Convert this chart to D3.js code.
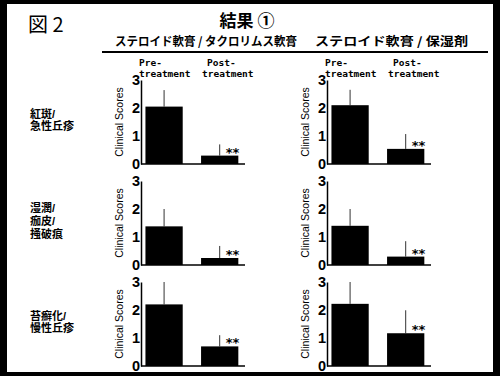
<!DOCTYPE html>
<html>
<head>
<meta charset="utf-8">
<script src="https://cdn.jsdelivr.net/npm/d3@7"></script>
<style>
  body { margin: 0; background: #000; }
  svg { display: block; }
</style>
</head>
<body>
<div id="chart"></div>
<script>
// data
const groups = ["Pre", "Post"];
const groupLabels = [["Pre-", "treatment"], ["Post-", "treatment"]];
const columnTitles = ["ステロイド軟膏 / タクロリムス軟膏", "ステロイド軟膏 / 保湿剤"];
const rowLabels = [["紅斑/", "急性丘疹"], ["湿潤/", "痂皮/", "掻破痕"], ["苔癬化/", "慢性丘疹"]];
const yTicks = [0, 1, 2, 3];

// mean scores [pre, post] per row, per column
const tacrolimusMeans = [[2.05, 0.30], [1.38, 0.25], [2.20, 0.70]];
const tacrolimusSD = [[0.59, 0.40], [0.62, 0.43], [0.80, 0.40]];
const moisturizerMeans = [[2.10, 0.54], [1.40, 0.30], [2.22, 1.17]];
const moisturizerSD = [[0.55, 0.53], [0.60, 0.55], [0.78, 0.82]];
const significance = ["", "**"];

const W = 500, H = 376;
const svg = d3.select("#chart").append("svg")
    .attr("width", W)
    .attr("height", H);

// black frame with white page
svg.append("rect").attr("width", W).attr("height", H).attr("fill", "#000");
svg.append("rect").attr("x", 7).attr("y", 4).attr("width", 486).attr("height", 368).attr("fill", "#fff");

// titles
svg.append("text")
    .attr("x", 28).attr("y", 32)
    .style("font-family", "'Noto Sans CJK JP', sans-serif")
    .style("font-size", "20px")
    .text("図 2");

svg.append("text")
    .attr("x", 247).attr("y", 27)
    .attr("text-anchor", "middle")
    .style("font-family", "'Noto Sans CJK JP', sans-serif")
    .style("font-size", "17px")
    .style("font-weight", "bold")
    .text("結果 ①");

const colX = [141, 327];   // y-axis position of each column
const rowY = [164, 265, 366]; // baseline of each row
const panelW = 104;
const panelH = 84;

svg.selectAll(".coltitle")
    .data(columnTitles)
    .enter().append("text")
    .attr("class", "coltitle")
    .attr("x", (d, i) => i === 0 ? 115 : 315)
    .attr("y", 46)
    .attr("textLength", (d, i) => i === 0 ? 182 : 153)
    .attr("lengthAdjust", "spacingAndGlyphs")
    .style("font-family", "'Noto Sans CJK JP', sans-serif")
    .style("font-size", "12px")
    .style("font-weight", "bold")
    .text(d => d);

svg.append("line")
    .attr("x1", 102).attr("x2", 488)
    .attr("y1", 52).attr("y2", 52)
    .attr("stroke", "#000")
    .attr("stroke-width", 2);

// row labels on the left, one text per line
const rowLineGap = 12.8;
rowLabels.forEach((lines, r) => {
    const top = rowY[r] - 44 - (lines.length - 1) * rowLineGap / 2 + 4;
    svg.selectAll(".rl" + r)
        .data(lines)
        .enter().append("text")
        .attr("class", "rl" + r)
        .attr("x", 30)
        .attr("y", (d, i) => top + i * rowLineGap)
        .style("font-family", "'Liberation Sans', 'Noto Sans CJK JP', sans-serif")
        .style("font-size", "11px")
        .style("font-weight", "bold")
        .text(d => d);
});

const x = d3.scaleBand()
    .domain(groups)
    .range([0, panelW])
    .paddingInner(0.33)
    .paddingOuter(0.1)
    .align(0.4);

const allMeans = [tacrolimusMeans, moisturizerMeans];
const allSD = [tacrolimusSD, moisturizerSD];

for (let c = 0; c < 2; c++) {
    for (let r = 0; r < 3; r++) {
        const g = svg.append("g")
            .attr("transform", `translate(${colX[c]},${rowY[r]})`);

        const y = d3.scaleLinear()
            .domain([0, 3])
            .range([0, -panelH]);

        const data = groups.map((k, i) => ({
            key: k,
            mean: allMeans[c][r][i],
            sd: allSD[c][r][i],
            sig: significance[i]
        }));

        // error bars (upper only)
        g.selectAll(".err")
            .data(data)
            .enter().append("line")
            .attr("x1", d => x(d.key) + x.bandwidth() / 2)
            .attr("x2", d => x(d.key) + x.bandwidth() / 2)
            .attr("y1", d => y(d.mean))
            .attr("y2", d => y(d.mean + d.sd))
            .attr("stroke", "#333")
            .attr("stroke-width", 1);

        g.selectAll("rect")
            .data(data)
            .enter().append("rect")
            .attr("x", d => x(d.key))
            .attr("y", d => y(d.mean))
            .attr("width", x.bandwidth())
            .attr("height", d => y(0) - y(d.mean))
            .attr("fill", "#000");

        g.selectAll(".sig")
            .data(data.filter(d => d.sig))
            .enter().append("text")
            .attr("x", d => x(d.key) + x.bandwidth() / 2 + 6)
            .attr("y", d => y(d.mean) + 1)
            .style("font-family", "'DejaVu Sans', sans-serif")
            .style("font-size", "13px")
            .style("font-weight", "bold")
            .text(d => d.sig);

        // axes
        const yAxis = g.append("g")
            .call(d3.axisLeft(y).tickValues(yTicks).tickSize(0).tickPadding(1).tickFormat(d3.format("d")));
        yAxis.select(".domain").attr("stroke", "#000").attr("stroke-width", 1.5);
        yAxis.selectAll("text")
            .style("font-family", "'Liberation Sans', Arial, sans-serif")
            .style("font-size", "14.5px")
            .style("font-weight", "bold");

        g.append("line")
            .attr("x1", 0).attr("x2", panelW)
            .attr("y1", y(0)).attr("y2", y(0))
            .attr("stroke", "#000")
            .attr("stroke-width", 1.5);

        g.append("text")
            .attr("transform", `translate(-18,${y(1.5)}) rotate(-90)`)
            .attr("text-anchor", "middle")
            .style("font-family", "'Liberation Sans', Arial, sans-serif")
            .style("font-size", "10.5px")
            .text("Clinical Scores");

        // group labels only on top row
        if (r === 0) {
            groupLabels.forEach((lines, i) => {
                const lx = i === 0 ? -2 : x(groups[1]) + 1;
                lines.forEach((s, j) => {
                    g.append("text")
                        .attr("x", lx + (i === 1 && j === 0 ? 5 : 0))
                        .attr("y", -98 + j * 11)
                        .style("font-family", "'DejaVu Sans Mono', monospace")
                        .style("font-size", "9.5px")
                        .style("font-weight", "bold")
                        .text(s);
                });
            });
        }
    }
}
</script>
</body>
</html>
